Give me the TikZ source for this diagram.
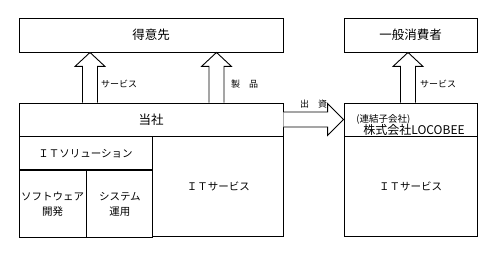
\documentclass[tikz,border=0pt]{standalone}
\usepackage{fontspec}
\setmainfont{Noto Sans CJK JP}
\usetikzlibrary{positioning,calc}

% hollow block arrow pointing up: #1 = top node, #2 = bottom node, #3 = x
\newcommand{\blockup}[3]{%
  \coordinate (tip) at (#1.south -| #3,0);
  \coordinate (base) at (#2.north -| #3,0);
  \draw[blk] ($(base)+(-7.5,0)$) -- ($(tip)+(-7.5,14)$) -- ($(tip)+(-15,14)$) -- (tip)
    -- ($(tip)+(15,14)$) -- ($(tip)+(7.5,14)$) -- ($(base)+(7.5,0)$);}

\begin{document}
\begin{tikzpicture}[x=1pt, y=-1pt,
    box/.style={rectangle, draw, line width=0.9pt, inner sep=0pt, align=center, font=\fontsize{10.5}{15}\selectfont},
    head/.style={box, font=\fontsize{12.5}{15}\selectfont},
    lbl/.style={inner sep=0pt, anchor=west, font=\fontsize{9}{11}\selectfont},
    blk/.style={draw, line width=0.9pt, fill=white, line join=miter}
]
\useasboundingbox (0,0) rectangle (495,254);

% customers
\node[head, minimum width=264pt, minimum height=34pt] (toku) at (151,35) {得意先};
\node[head, minimum width=133pt, minimum height=34pt] (ippan) at (410.5,35) {一般消費者};

% our company
\node[head, minimum width=264pt, minimum height=33pt] (tosha) at (151,119.5) {当社};
\node[box, minimum width=133pt, minimum height=33pt, anchor=north west] (itsol) at (tosha.south west) {ＩＴソリューション};
\node[box, minimum width=67pt, minimum height=67pt, anchor=north west] (soft) at (itsol.south west) {ソフトウェア\\開発};
\node[box, minimum width=66pt, minimum height=67pt, anchor=north west] (sys) at (soft.north east) {システム\\運用};
\node[box, minimum width=131pt, minimum height=100pt, anchor=north west] (itsv) at (itsol.north east) {ＩＴサービス};

% subsidiary
\node[box, minimum width=133pt, minimum height=33pt, align=left] (loco) at (410.5,119.5)
  {\rule{0pt}{18pt}{\fontsize{9.5}{10}\selectfont (連結子会社)}\\[-3pt]\hspace*{7pt}{\fontsize{12}{13}\selectfont 株式会社LOCOBEE}};
\node[box, minimum width=133pt, minimum height=100pt, anchor=north] (locosv) at (loco.south) {ＩＴサービス};

% block arrows
\blockup{toku}{tosha}{90}
\blockup{toku}{tosha}{216.5}
\blockup{ippan}{loco}{408}
\draw[blk] ($(tosha.east)+(0,-7.5)$) -- ($(loco.west)+(-16,-7.5)$) -- ($(loco.west)+(-16,-16)$) -- (loco.west)
  -- ($(loco.west)+(-16,16)$) -- ($(loco.west)+(-16,7.5)$) -- ($(tosha.east)+(0,7.5)$);

% arrow labels
\node[lbl] (svc1) at (101,84) {サービス};
\node[lbl] (prod) at (231,84) {製　品};
\node[lbl] (svc2) at (420,84) {サービス};
\node[lbl] (inv) at (300,104) {出　資};
\end{tikzpicture}
\end{document}
